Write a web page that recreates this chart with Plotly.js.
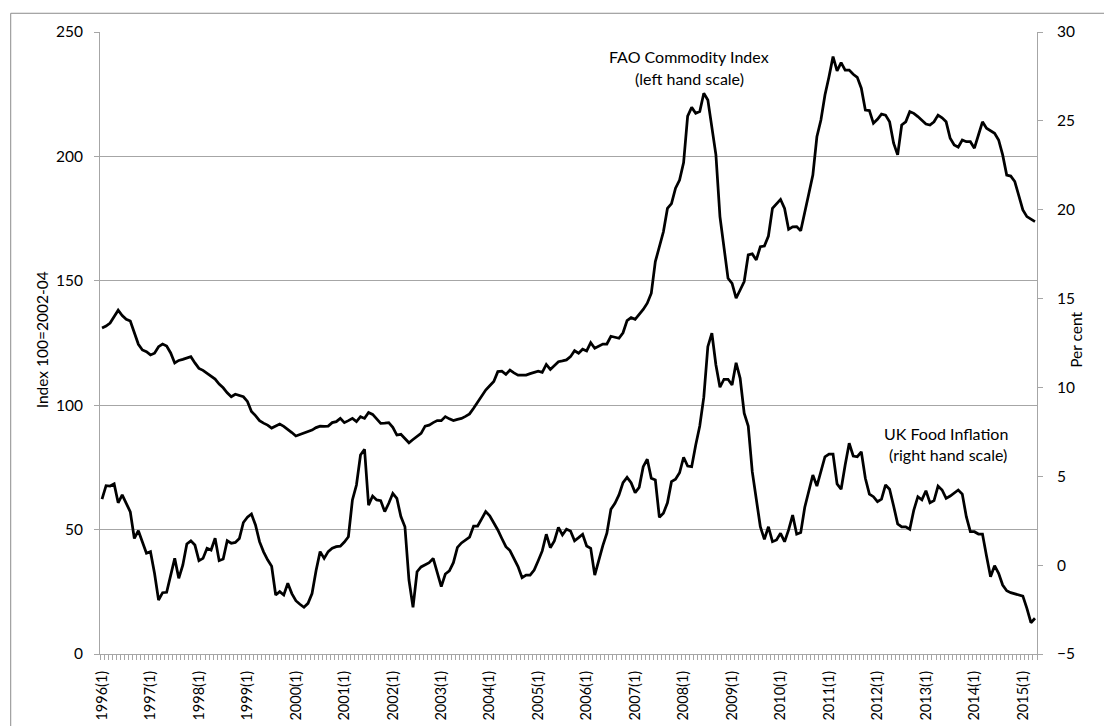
<!DOCTYPE html>
<html>
<head>
<meta charset="utf-8">
<script src="https://cdn.plot.ly/plotly-3.0.1.min.js"></script>
<style>
  html, body { margin: 0; padding: 0; background: #fff; }
  #chart { width: 1104px; height: 726px; }
</style>
</head>
<body>
<div id="chart"></div>
<script>
// Monthly series, 1996(1) .. 2015(4)
const fao = [
  131, 131.8, 133, 135.5, 138.2, 136, 134.5, 133.8, 129, 124.5,
  122.2, 121.5, 120.2, 120.9, 123.5, 124.6, 123.8, 121, 117, 118,
  118.4, 118.8, 119.5, 117, 114.8, 114, 112.8, 111.8, 110.5, 108.5,
  107, 105, 103.4, 104.4, 104, 103.4, 101.5, 97.5, 95.8, 93.8,
  92.8, 92, 90.8, 91.5, 92.4, 91.5, 90.4, 89, 87.6, 88.2,
  88.7, 89.4, 90, 91, 91.6, 91.5, 91.6, 93, 93.4, 94.7,
  93, 93.8, 94.7, 93.4, 95.4, 94.7, 97.1, 96.3, 94.5, 92.7,
  92.8, 93, 91.1, 88, 88.3, 86.6, 84.9, 86.2, 87.5, 88.7,
  91.6, 92, 93, 93.8, 93.8, 95.4, 94.5, 93.8, 94.3, 94.7,
  95.5, 96.5, 98.8, 101.2, 103.7, 106.1, 107.8, 109.5, 113.5, 113.7,
  112.4, 114.1, 113, 112.1, 112.1, 112.1, 112.7, 113.2, 113.7, 113.2,
  116.4, 114.4, 116, 117.5, 117.8, 118.2, 119.5, 121.9, 120.9, 122.5,
  121.8, 125.1, 122.9, 123.8, 124.6, 124.6, 127.7, 127.3, 126.9, 129.1,
  134, 135.2, 134.5, 136.5, 138.5, 141, 145, 157.7, 163.7, 169.7,
  179.1, 181, 187.2, 190.5, 197.5, 216.2, 219.7, 217.3, 218, 225.4,
  222.7, 212, 200.6, 175.8, 162.4, 151, 149, 143, 146.3, 149.7,
  160.4, 160.8, 158.4, 163.7, 164, 168, 179.1, 181, 182.7, 179.1,
  170.7, 171.7, 171.8, 170.1, 177.1, 185, 192.5, 207.9, 214.6, 224.7,
  232, 240.1, 234.4, 237.7, 234.7, 234.7, 233, 231.8, 227.4, 218.6,
  218.4, 213.3, 214.9, 217, 216.6, 213.9, 205.3, 200.6, 212.6, 213.9,
  218, 217.3, 216, 214.6, 213, 212.6, 213.9, 216.6, 215.5, 213.9,
  207.3, 204.6, 203.7, 206.6, 205.9, 205.9, 203.3, 208.6, 213.9, 211.3,
  210.3, 209.3, 206.6, 200.6, 192.5, 192.1, 189.9, 183.8, 178.5, 175.8,
  174.8, 173.8
];

const ukFood = [
  3.72, 4.47, 4.45, 4.57, 3.51, 3.95, 3.48, 3.0, 1.5, 1.94,
  1.3, 0.67, 0.76, -0.46, -1.96, -1.55, -1.53, -0.65, 0.38, -0.74,
  0, 1.19, 1.37, 1.13, 0.25, 0.38, 0.95, 0.85, 1.51, 0.25,
  0.34, 1.37, 1.23, 1.28, 1.5, 2.4, 2.7, 2.88, 2.26, 1.32,
  0.75, 0.3, -0.06, -1.68, -1.49, -1.68, -1.02, -1.6, -2.0, -2.2,
  -2.37, -2.15, -1.6, -0.3, 0.76, 0.38, 0.76, 0.95, 1.04, 1.07,
  1.3, 1.6, 3.67, 4.51, 6.2, 6.52, 3.38, 3.89, 3.67, 3.63,
  3.01, 3.48, 4.04, 3.76, 2.73, 2.16, -0.84, -2.37, -0.37, -0.1,
  0.0, 0.14, 0.38, -0.4, -1.21, -0.5, -0.32, 0.14, 1.0, 1.25,
  1.4, 1.57, 2.2, 2.2, 2.6, 3.01, 2.77, 2.4, 1.98, 1.5,
  1.04, 0.82, 0.4, -0.08, -0.71, -0.56, -0.56, -0.28, 0.25, 0.8,
  1.74, 0.98, 1.36, 2.13, 1.7, 2.02, 1.92, 1.37, 1.55, 1.74,
  1.08, 0.95, -0.56, 0.3, 1.1, 1.8, 3.14, 3.48, 3.95, 4.64,
  4.94, 4.64, 4.08, 4.38, 5.54, 5.96, 4.89, 4.79, 2.69, 2.92,
  3.51, 4.7, 4.83, 5.2, 6.07, 5.58, 5.54, 6.76, 7.83, 9.45,
  12.29, 13.05, 11.26, 10.01, 10.46, 10.46, 10.14, 11.39, 10.51, 8.55,
  7.83, 5.26, 3.67, 2.16, 1.45, 2.16, 1.32, 1.42, 1.79, 1.32,
  1.98, 2.82, 1.74, 1.83, 3.26, 4.19, 5.07, 4.45, 5.35, 6.1,
  6.25, 6.25, 4.57, 4.27, 5.64, 6.86, 6.14, 6.1, 6.38, 4.89,
  4.0, 3.85, 3.57, 3.71, 4.51, 4.27, 3.33, 2.32, 2.16, 2.16,
  2.02, 3.1, 3.85, 3.67, 4.19, 3.51, 3.63, 4.45, 4.23, 3.76,
  3.89, 4.05, 4.23, 4.0, 2.73, 1.88, 1.88, 1.75, 1.75, 0.51,
  -0.65, -0.03, -0.46, -1.12, -1.44, -1.55, -1.62, -1.68, -1.74, -2.43,
  -3.24, -2.99
];

const yearLabels = [
  '1996(1)', '1997(1)', '1998(1)', '1999(1)', '2000(1)', '2001(1)', '2002(1)',
  '2003(1)', '2004(1)', '2005(1)', '2006(1)', '2007(1)', '2008(1)', '2009(1)',
  '2010(1)', '2011(1)', '2012(1)', '2013(1)', '2014(1)', '2015(1)'
];

const leftTitle = 'Index 100=2002-04';
const rightTitle = 'Per cent';
const faoLabel = ['FAO Commodity Index', '(left hand scale)'];
const ukLabel = ['UK Food Inflation', '(right hand scale)'];

const monthIdx = fao.map((_, i) => i);
const yearTickVals = yearLabels.map((_, i) => i * 12);

const axisGrey = '#a6a6a6';
const gridGrey = '#a6a6a6';
const fontFam = 'Lato, "Open Sans", "Liberation Sans", sans-serif';
const tickSize = 15.5;
const xTickSize = 14.5;
const titleSize = 15.5;
const noteSize = 16;

const traces = [
  {
    x: monthIdx, y: fao, type: 'scatter', mode: 'lines',
    name: 'FAO Commodity Index', yaxis: 'y',
    line: { color: '#000000', width: 2.75 }
  },
  {
    x: monthIdx, y: ukFood, type: 'scatter', mode: 'lines',
    name: 'UK Food Inflation', yaxis: 'y2',
    line: { color: '#000000', width: 2.75 }
  }
];

const layout = {
  width: 1104, height: 726,
  margin: { l: 100, r: 67, t: 32, b: 72, pad: 0 },
  paper_bgcolor: '#ffffff', plot_bgcolor: '#ffffff',
  font: { family: fontFam, size: tickSize, color: '#000000' },
  showlegend: false,
  xaxis: {
    range: [-0.5, fao.length - 0.5],
    tickmode: 'array', tickvals: yearTickVals, ticktext: yearLabels,
    tickangle: -90, ticks: 'outside', ticklen: 5, tickcolor: 'rgba(0,0,0,0)',
    ticklabelstandoff: 5,
    tickfont: { family: fontFam, size: xTickSize, color: '#000000' },
    showgrid: false, zeroline: false,
    showline: true, linecolor: axisGrey, linewidth: 1,
    minor: { ticks: 'outside', ticklen: 5, tickcolor: axisGrey, tickwidth: 1,
             tickmode: 'linear', tick0: -0.5, dtick: 1, showgrid: false },
    automargin: false, fixedrange: true
  },
  yaxis: {
    range: [0, 250], tickmode: 'linear', tick0: 0, dtick: 50,
    ticks: 'outside', ticklen: 5, tickcolor: axisGrey,
    ticklabelstandoff: 8,
    tickfont: { family: fontFam, size: tickSize, color: '#000000' },
    showline: true, linecolor: axisGrey, linewidth: 1,
    showgrid: true, gridcolor: gridGrey, gridwidth: 1, zeroline: false,
    automargin: false, fixedrange: true
  },
  yaxis2: {
    overlaying: 'y', side: 'right',
    range: [-5, 30], tickmode: 'linear', tick0: -5, dtick: 5,
    ticks: 'outside', ticklen: 5, tickcolor: axisGrey,
    ticklabelstandoff: 11,
    tickfont: { family: fontFam, size: tickSize, color: '#000000' },
    showline: true, linecolor: axisGrey, linewidth: 1,
    showgrid: false, zeroline: false,
    automargin: false, fixedrange: true
  },
  annotations: [
    { xref: 'paper', yref: 'paper', x: -0.0615, y: 0.505, text: leftTitle, showarrow: false,
      textangle: -90, xanchor: 'center', yanchor: 'middle',
      font: { family: fontFam, size: titleSize, color: '#000000' } },
    { xref: 'paper', yref: 'paper', x: 1.0416, y: 0.505, text: rightTitle, showarrow: false,
      textangle: -90, xanchor: 'center', yanchor: 'middle',
      font: { family: fontFam, size: titleSize, color: '#000000' } },
    { xref: 'x', yref: 'y', x: 145.4, y: 240, text: faoLabel[0], showarrow: false,
      xanchor: 'center', yanchor: 'middle', font: { family: fontFam, size: noteSize, color: '#000000' } },
    { xref: 'x', yref: 'y', x: 145.4, y: 231.5, text: faoLabel[1], showarrow: false,
      xanchor: 'center', yanchor: 'middle', font: { family: fontFam, size: noteSize, color: '#000000' } },
    { xref: 'x', yref: 'y', x: 208.9, y: 88.7, text: ukLabel[0], showarrow: false,
      xanchor: 'center', yanchor: 'middle', font: { family: fontFam, size: noteSize, color: '#000000' } },
    { xref: 'x', yref: 'y', x: 209.5, y: 80.0, text: ukLabel[1], showarrow: false,
      xanchor: 'center', yanchor: 'middle', font: { family: fontFam, size: noteSize, color: '#000000' } }
  ],
  shapes: [
    { type: 'rect', xref: 'paper', yref: 'paper',
      x0: -0.0953, x1: 1.2, y0: -0.4, y1: 1.0301,
      line: { color: '#8c8c8c', width: 1 }, fillcolor: 'rgba(0,0,0,0)', layer: 'below' }
  ]
};

Plotly.newPlot('chart', traces, layout, { staticPlot: true, displayModeBar: false });
</script>
</body>
</html>
